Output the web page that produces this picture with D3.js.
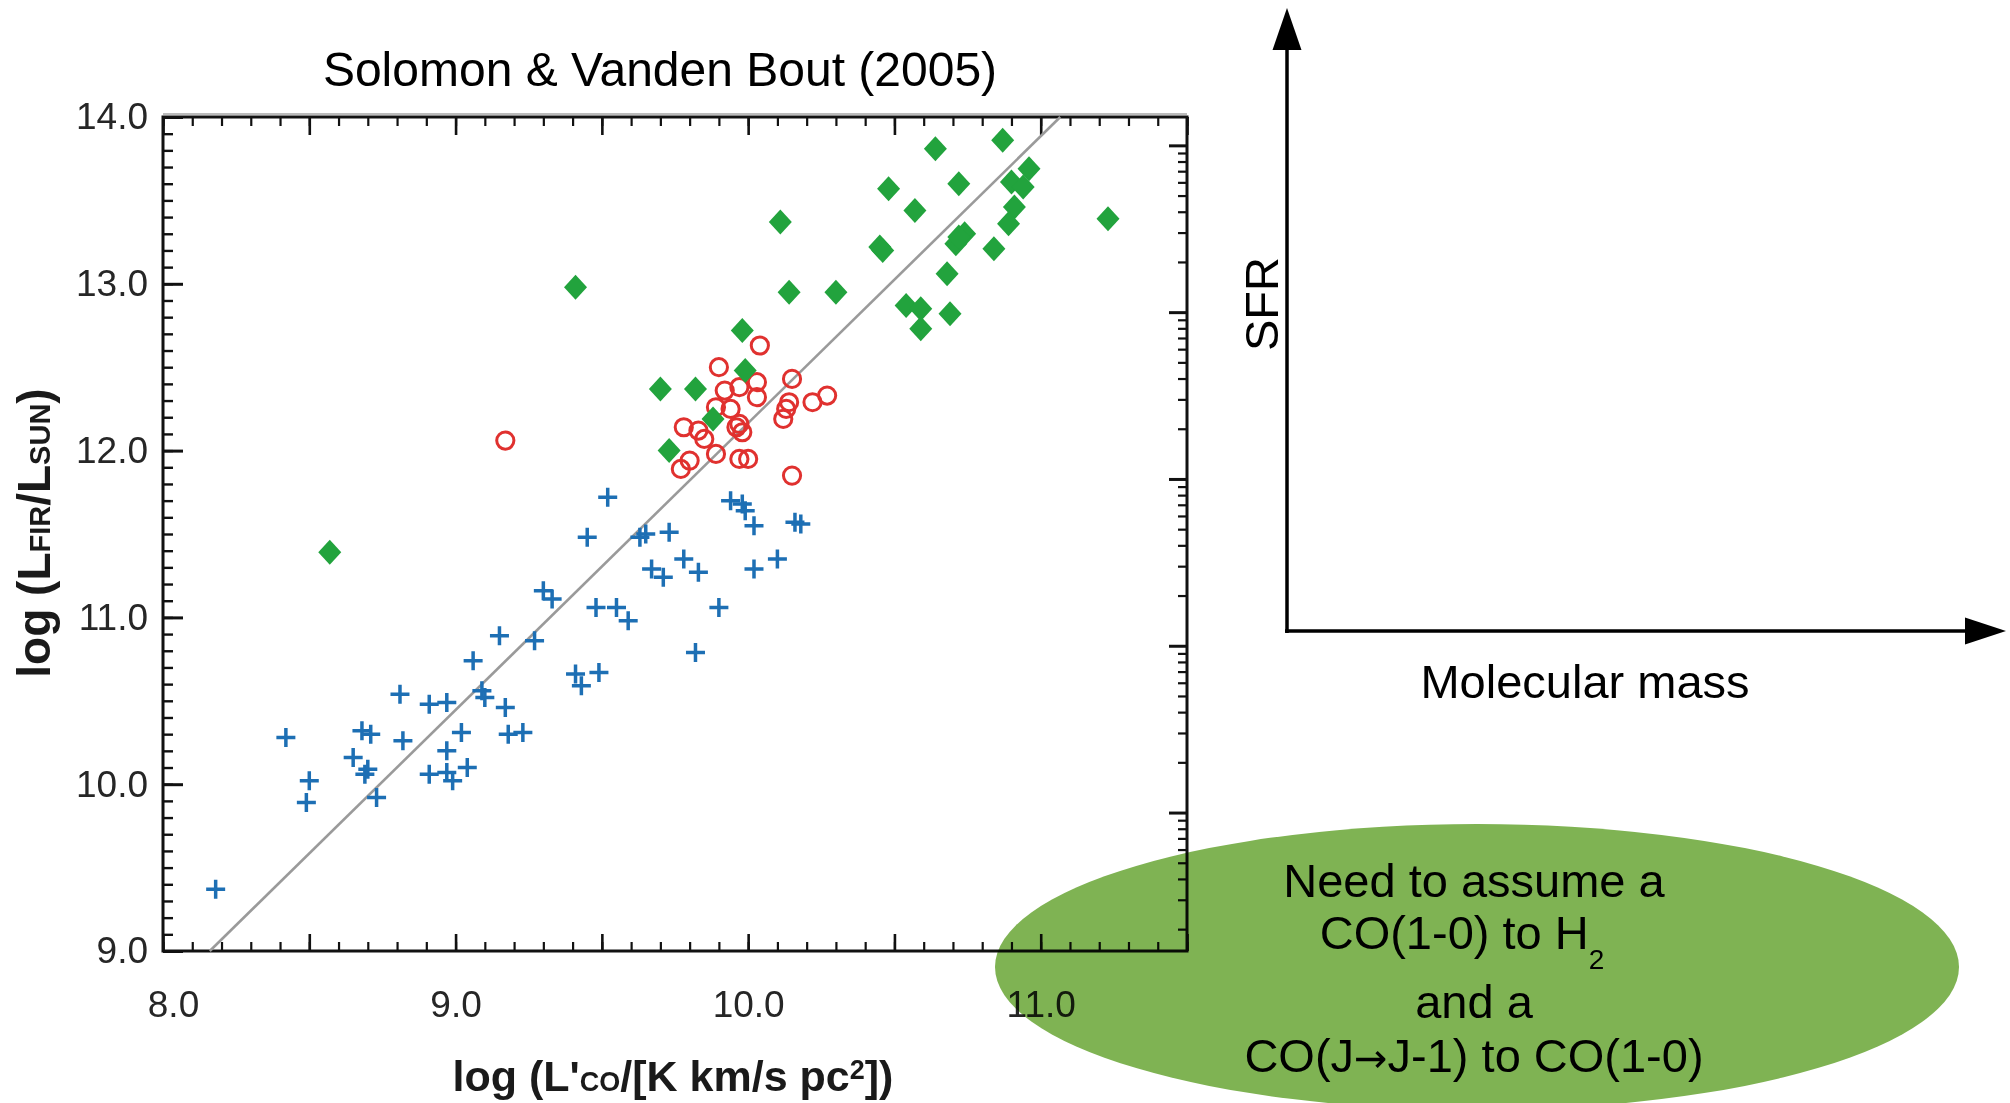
<!DOCTYPE html>
<html><head><meta charset="utf-8">
<script src="https://cdn.jsdelivr.net/npm/d3@7"></script>
<style>
html,body{margin:0;padding:0;background:#fff;overflow:hidden;}
svg{display:block;font-family:"Liberation Sans",Arial,Helvetica,sans-serif;}
</style></head><body>
<svg id="c" width="2010" height="1103"></svg>
<script>
// ---------- data ----------
const titleText = "Solomon & Vanden Bout (2005)";
const xTickLabels = ["8.0", "9.0", "10.0", "11.0"];
const yTickLabels = ["9.0", "10.0", "11.0", "12.0", "13.0", "14.0"];

// blue crosses (log L'CO, log LFIR)
const crossX = [8.18, 8.42, 8.50, 8.49, 8.81, 8.91, 8.97, 9.09, 9.10, 9.17,
  8.68, 8.71, 8.82, 9.02, 9.18, 9.23, 8.65, 8.70, 8.69, 8.73,
  8.97, 8.91, 8.97, 8.99, 9.04, 9.06,
  9.52, 9.45, 9.63, 9.65, 9.73, 9.30, 9.33, 9.67, 9.71, 9.78,
  9.83, 9.48, 9.55, 9.59, 9.15, 9.27, 9.41, 9.43, 9.49, 9.90,
  9.82, 9.94, 9.98, 9.99, 10.02, 10.16, 10.18, 10.02, 10.10];
const crossY = [9.37, 10.28, 10.02, 9.89, 10.54, 10.48, 10.49, 10.56, 10.52, 10.46,
  10.32, 10.30, 10.26, 10.31, 10.30, 10.31, 10.16, 10.09, 10.06, 9.92,
  10.20, 10.06, 10.07, 10.02, 10.10, 10.74,
  11.72, 11.48, 11.48, 11.50, 11.51, 11.16, 11.11, 11.29, 11.24, 11.35,
  11.27, 11.06, 11.06, 10.98, 10.89, 10.86, 10.66, 10.59, 10.67, 11.06,
  10.79, 11.70, 11.68, 11.64, 11.55, 11.57, 11.56, 11.29, 11.35];

// red open circles
const circleX = [10.04, 9.90, 10.15, 10.03, 9.92, 9.97, 10.03, 10.14, 10.13, 10.12,
  10.22, 10.27, 9.94, 9.89, 9.78, 9.83, 9.85, 9.96, 9.98, 9.97,
  9.89, 9.80, 9.77, 9.97, 10.00, 10.15, 9.17];
const circleY = [12.63, 12.50, 12.43, 12.41, 12.36, 12.38, 12.32, 12.29, 12.25, 12.19,
  12.29, 12.33, 12.25, 12.26, 12.14, 12.12, 12.07, 12.14, 12.11, 12.16,
  11.98, 11.94, 11.89, 11.95, 11.95, 11.85, 12.06];

// green filled diamonds
const diamondX = [8.57, 9.41, 9.70, 9.82, 9.88, 9.73, 9.98, 9.99, 10.11, 10.14,
  10.30, 10.45, 10.46, 10.48, 10.57, 10.64, 10.72, 10.87, 10.96, 10.90,
  10.94, 10.91, 10.89, 11.23, 10.74, 10.71, 10.72, 10.84, 10.68, 10.54,
  10.59, 10.59, 10.69];
const diamondY = [11.39, 12.98, 12.37, 12.37, 12.19, 12.00, 12.72, 12.48, 13.37, 12.95,
  12.95, 13.22, 13.20, 13.57, 13.44, 13.81, 13.60, 13.86, 13.69, 13.61,
  13.58, 13.46, 13.36, 13.39, 13.30, 13.24, 13.28, 13.21, 13.06, 12.87,
  12.85, 12.73, 12.82];

// fitted relation  log LFIR = slope * log L'CO + intercept
const fitSlope = 1.72, fitIntercept = -5.035;

// right-hand (log-scaled) axis decades, in left-axis units
const rightDecades = [8.83, 9.83, 10.83, 11.83, 12.83, 13.83];

const ellipseLines = [["Need to assume a"], ["CO(1-0) to H"], ["and a"], ["CO(J", "\u2192", "J-1) to CO(1-0)"]];

// ---------- drawing ----------
const svg = d3.select("#c");
const L = 163, R = 1187, T = 117, B = 951;
const x = d3.scaleLinear().domain([8, 11.5]).range([L, R]);
const y = d3.scaleLinear().domain([9, 14]).range([B, T]);

const xMinor = d3.range(80, 116).map(d => d / 10);
const xMajor = d3.range(16, 24).map(d => d / 2);
const yMinor = d3.range(90, 141).map(d => d / 10);
const yMajor = d3.range(9, 15);
const labelOf = (arr) => (d => { const s = arr.find(l => Math.abs(+l - d) < 1e-6); return s || ""; });

const rMinor = [];
rightDecades.forEach(dd => { for (let m = 2; m <= 9; m++) { const v = dd + Math.log10(m); if (v > 9 && v < 14) rMinor.push(v); } });
const rMajor = rightDecades.filter(v => v > 9 && v < 14);

function styleAxis(g, w) {
  g.select(".domain").remove();
  g.selectAll(".tick line").attr("stroke", "#111").attr("stroke-width", w);
  g.selectAll(".tick text").attr("fill", "#262626").style("font-size", "37px")
    .style("font-family", '"Liberation Sans",Arial,sans-serif');
}

const axes = svg.append("g");
// bottom
axes.append("g").attr("transform", `translate(0,${B})`)
  .call(d3.axisBottom(x).tickValues(xMinor).tickSize(-9).tickFormat("")).call(g => styleAxis(g, 2.2));
axes.append("g").attr("transform", `translate(0,${B})`)
  .call(d3.axisBottom(x).tickValues(xMajor).tickSize(-17).tickPadding(40).tickFormat(labelOf(xTickLabels)))
  .call(g => styleAxis(g, 2.6))
  .call(g => g.selectAll(".tick text").attr("dx", d => d === 8 ? 10 : 0));
// top
axes.append("g").attr("transform", `translate(0,${T})`)
  .call(d3.axisTop(x).tickValues(xMinor).tickSize(-9).tickFormat("")).call(g => styleAxis(g, 2.2));
axes.append("g").attr("transform", `translate(0,${T})`)
  .call(d3.axisTop(x).tickValues(xMajor).tickSize(-18).tickFormat("")).call(g => styleAxis(g, 2.6));
// left
axes.append("g").attr("transform", `translate(${L},0)`)
  .call(d3.axisLeft(y).tickValues(yMinor).tickSize(-10).tickFormat("")).call(g => styleAxis(g, 2.4));
axes.append("g").attr("transform", `translate(${L},0)`)
  .call(d3.axisLeft(y).tickValues(yMajor).tickSize(-20).tickPadding(15).tickFormat(labelOf(yTickLabels)))
  .call(g => styleAxis(g, 3));
// right (log ticks)
axes.append("g").attr("transform", `translate(${R},0)`)
  .call(d3.axisRight(y).tickValues(rMinor).tickSize(-9).tickFormat("")).call(g => styleAxis(g, 2.2));
axes.append("g").attr("transform", `translate(${R},0)`)
  .call(d3.axisRight(y).tickValues(rMajor).tickSize(-18).tickFormat("")).call(g => styleAxis(g, 3));

// frame
axes.append("rect").attr("x", L).attr("y", T).attr("width", R - L).attr("height", B - T)
  .attr("fill", "none").attr("stroke", "#111").attr("stroke-width", 3);
axes.append("line").attr("x1", L).attr("x2", R).attr("y1", T - 3).attr("y2", T - 3)
  .attr("stroke", "#bbb").attr("stroke-width", 2);

// fit line
const fy0 = 9, fy1 = 14;
svg.append("line")
  .attr("x1", x((fy0 - fitIntercept) / fitSlope)).attr("y1", y(fy0))
  .attr("x2", x((fy1 - fitIntercept) / fitSlope)).attr("y2", y(fy1))
  .attr("stroke", "#9a9a9a").attr("stroke-width", 2.6);

// crosses
svg.append("g").selectAll("path").data(crossX.map((d, i) => [d, crossY[i]])).join("path")
  .attr("transform", d => `translate(${x(d[0])},${y(d[1])})`)
  .attr("d", "M-9.5,0H9.5M0,-9.5V9.5").attr("stroke", "#1d6fb4").attr("stroke-width", 3.5).attr("fill", "none");

// circles
svg.append("g").selectAll("circle").data(circleX.map((d, i) => [d, circleY[i]])).join("circle")
  .attr("cx", d => x(d[0])).attr("cy", d => y(d[1])).attr("r", 8.6)
  .attr("fill", "none").attr("stroke", "#e0312f").attr("stroke-width", 3);

// diamonds
svg.append("g").selectAll("path").data(diamondX.map((d, i) => [d, diamondY[i]])).join("path")
  .attr("transform", d => `translate(${x(d[0])},${y(d[1])})`)
  .attr("d", "M0,-12.5L11.5,0L0,12.5L-11.5,0Z").attr("fill", "#22a33d");

// title
svg.append("text").attr("x", 660).attr("y", 86).attr("text-anchor", "middle")
  .style("font-size", "48px").attr("fill", "#000").text(titleText);

// x axis title
const xt = svg.append("text").attr("x", 673).attr("y", 1091).attr("text-anchor", "middle")
  .style("font-size", "43px").style("font-weight", "bold").attr("fill", "#1a1a1a");
xt.append("tspan").text("log (L'");
xt.append("tspan").style("font-size", "27px").text("CO");
xt.append("tspan").text("/[K km/s pc");
xt.append("tspan").style("font-size", "27px").attr("dy", -12).text("2");
xt.append("tspan").attr("dy", 12).text("])");

// y axis title
const yt = svg.append("text").attr("transform", "translate(50,533) rotate(-90)").attr("text-anchor", "middle")
  .style("font-size", "46px").style("font-weight", "bold").attr("fill", "#1a1a1a");
yt.append("tspan").text("log (L");
yt.append("tspan").style("font-size", "29px").text("FIR");
yt.append("tspan").text("/L");
yt.append("tspan").style("font-size", "29px").text("SUN");
yt.append("tspan").text(")");

// schematic axes on the right
const ax = 1287, ay = 631;
svg.append("line").attr("x1", ax).attr("y1", ay + 2).attr("x2", ax).attr("y2", 45)
  .attr("stroke", "#000").attr("stroke-width", 3.5);
svg.append("path").attr("d", `M${ax},8L${ax + 14.5},50L${ax - 14.5},50Z`).attr("fill", "#000");
svg.append("line").attr("x1", ax - 2).attr("y1", ay).attr("x2", 1970).attr("y2", ay)
  .attr("stroke", "#000").attr("stroke-width", 3.5);
svg.append("path").attr("d", `M2006,${ay}L1965,${ay - 13.5}L1965,${ay + 13.5}Z`).attr("fill", "#000");
svg.append("text").attr("transform", "translate(1278,304) rotate(-90)").attr("text-anchor", "middle")
  .style("font-size", "47px").attr("fill", "#000").text("SFR");
svg.append("text").attr("x", 1585).attr("y", 698).attr("text-anchor", "middle")
  .style("font-size", "47px").attr("fill", "#000").text("Molecular mass");

// green ellipse note
svg.append("ellipse").attr("cx", 1477).attr("cy", 967).attr("rx", 482).attr("ry", 143)
  .attr("fill", "#7fb353").style("mix-blend-mode", "multiply");
const eg = svg.append("g").style("font-size", "47px").attr("fill", "#000").attr("text-anchor", "middle");
const baselines = [897, 949, 1018, 1072];
ellipseLines.forEach((parts, i) => {
  const t = eg.append("text").attr("x", i === 1 ? 1462 : 1474).attr("y", baselines[i]);
  parts.forEach(s => {
    const sp = t.append("tspan").text(s);
    if (s === "\u2192") sp.style("font-family", '"DejaVu Sans",sans-serif').style("font-size", "40px");
  });
  if (i === 1) t.append("tspan").style("font-size", "28px").attr("dy", 20).text("2");
});
</script>
</body></html>
